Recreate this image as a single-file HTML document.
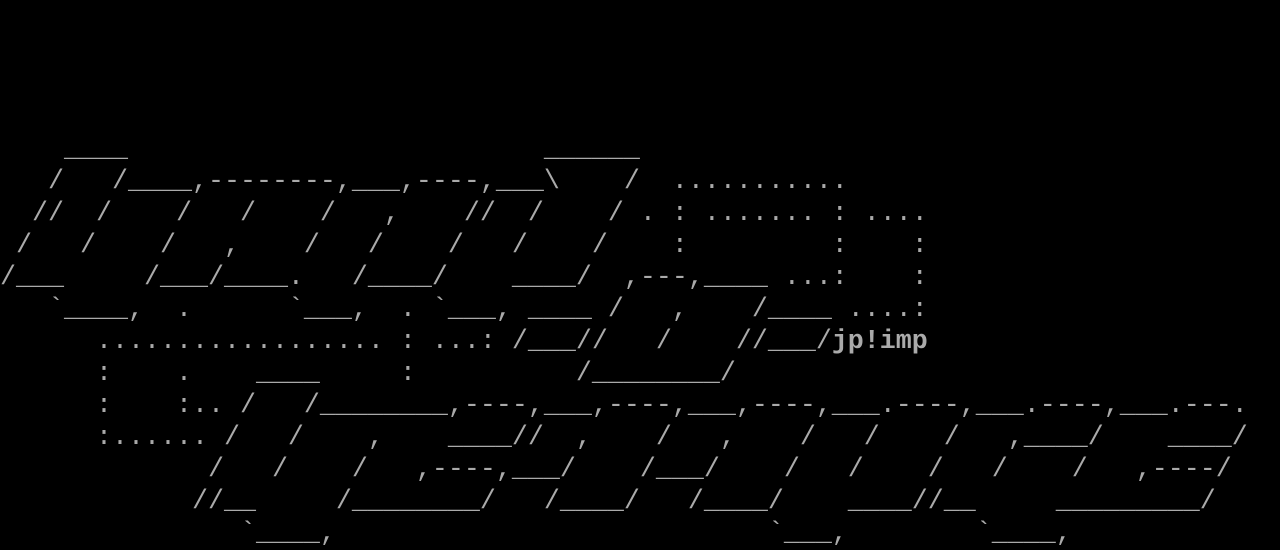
<!DOCTYPE html>
<html><head><meta charset="utf-8"><style>
html,body{margin:0;padding:0;background:#000;width:1280px;height:544px;overflow:hidden}
pre{margin:0;position:absolute;left:0;top:6px;font-family:"Liberation Mono",monospace;font-size:26.667px;line-height:32px;color:#aaa;white-space:pre}
b{font-weight:bold;color:#aaa}
</style></head><body><pre>




    ____                          ______
   /   /____,--------,___,----,___\    /  ...........
  //  /    /   /    /   ,    //  /    / . : ....... : ....
 /   /    /   ,    /   /    /   /    /    :         :    :
/___     /___/____.   /____/    ____/  ,---,____ ...:    :
   `____,  .      `___,  . `___, ____ /   ,    /____ ....:
      .................. : ...: /___//   /    //___/<b>jp!imp</b>
      :    .    ____     :          /________/
      :    :.. /   /________,----,___,----,___,----,___.----,___.----,___.---.
      :...... /   /    ,    ____//  ,    /   ,    /   /    /   ,____/    ____/
             /   /    /   ,----,___/    /___/    /   /    /   /    /   ,----/
            //__     /________/   /____/   /____/    ____//__     _________/
               `____,                           `___,        `____,
</pre></body></html>
